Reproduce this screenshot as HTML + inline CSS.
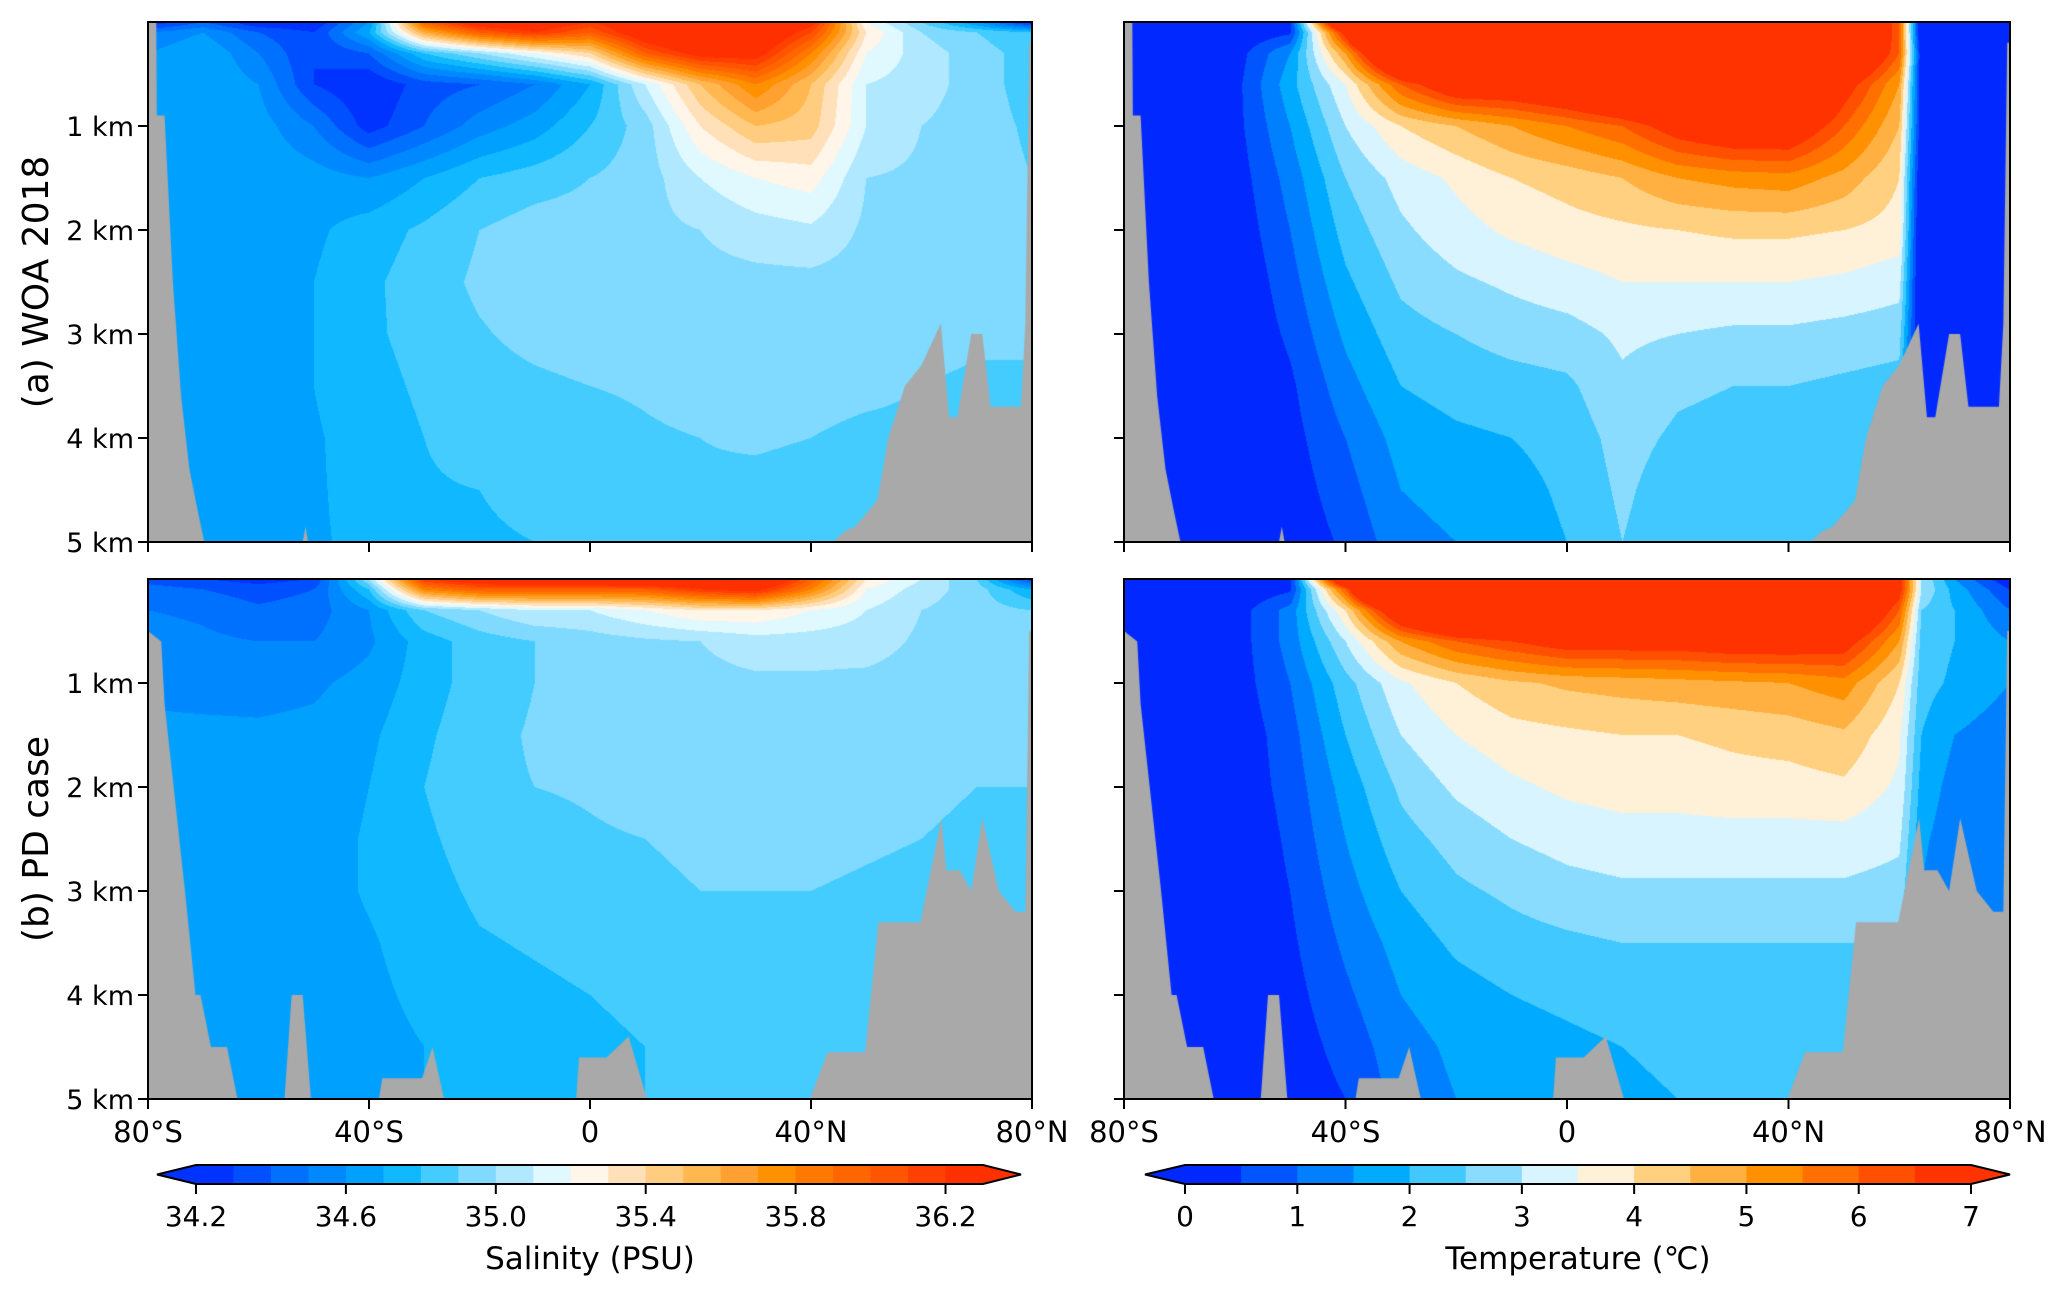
<!DOCTYPE html>
<html><head><meta charset="utf-8">
<style>
html,body{margin:0;padding:0;background:#fff;}
#wrap{position:relative;width:2067px;height:1296px;overflow:hidden;font-family:"DejaVu Sans","Liberation Sans",sans-serif;}
canvas{position:absolute;}
svg{position:absolute;left:0;top:0;}
</style></head>
<body>
<div id="wrap">
<canvas id="cA"></canvas>
<canvas id="cB"></canvas>
<canvas id="cC"></canvas>
<canvas id="cD"></canvas>
<svg id="ov" width="2067" height="1296"></svg>
</div>
<script>
// ---------- data ----------
const depths = [0,0.1,0.3,0.6,1.0,1.5,2.0,2.5,3.0,3.5,4.0,4.5,5.0];
const salLats = [-80,-70,-60,-50,-40,-30,-20,-10,0,10,20,30,40,50,60,70,80];
const tempLats = [-80,-70,-60,-50,-40,-30,-20,-10,0,10,20,30,40,50,60,64,70,80];

const salWOA = [
[34.2,34.4,34.2,34.2,34.6,36.0,36.4,36.4,36.2,36.4,36.6,36.6,36.3,35.2,34.9,34.6,34.2],
[34.5,34.6,34.4,34.3,34.7,35.6,36.0,36.2,36.0,36.4,36.6,36.5,36.1,35.3,35.0,34.9,34.8],
[34.6,34.7,34.5,34.3,34.4,34.8,35.0,35.2,35.4,36.0,36.3,36.3,35.8,35.2,35.05,34.95,34.85],
[34.65,34.7,34.6,34.3,34.2,34.35,34.4,34.5,34.7,35.1,35.5,35.8,35.5,35.1,35.05,34.95,34.85],
[34.7,34.7,34.65,34.5,34.25,34.4,34.55,34.65,34.8,34.95,35.3,35.5,35.45,35.1,35.0,34.95,34.88],
[34.68,34.68,34.68,34.65,34.6,34.7,34.8,34.85,34.9,34.95,35.1,35.2,35.25,35.0,34.98,34.95,34.9],
[34.68,34.68,34.68,34.68,34.75,34.82,34.9,34.95,34.95,34.97,35.0,35.05,35.08,34.98,34.96,34.95,34.93],
[34.68,34.68,34.68,34.7,34.78,34.85,34.92,34.95,34.96,34.96,34.97,34.97,34.97,34.96,34.95,34.94,34.93],
[34.68,34.68,34.68,34.7,34.78,34.84,34.89,34.93,34.95,34.95,34.96,34.96,34.96,34.95,34.94,34.92,34.9],
[34.67,34.67,34.67,34.7,34.76,34.82,34.86,34.88,34.9,34.91,34.93,34.93,34.93,34.92,34.9,34.88,34.9],
[34.67,34.66,34.66,34.69,34.74,34.8,34.84,34.86,34.87,34.89,34.9,34.91,34.9,34.88,34.88,34.88,34.9],
[34.67,34.66,34.66,34.69,34.73,34.79,34.8,34.82,34.86,34.88,34.89,34.88,34.87,34.85,34.85,34.85,34.88],
[34.67,34.66,34.66,34.69,34.72,34.78,34.79,34.8,34.85,34.88,34.88,34.87,34.85,34.84,34.84,34.85,34.88]
];
const salPD = [
[34.35,34.3,34.25,34.3,35.0,36.2,36.4,36.5,36.5,36.6,36.6,36.6,36.0,35.3,35.1,34.9,34.3],
[34.45,34.4,34.35,34.4,34.8,35.8,36.0,36.0,36.0,36.0,36.2,36.3,35.8,35.2,35.05,34.95,34.7],
[34.5,34.48,34.42,34.45,34.6,34.9,35.0,35.1,35.1,35.2,35.3,35.3,35.2,35.1,35.0,34.95,34.9],
[34.55,34.52,34.5,34.5,34.58,34.75,34.85,34.9,34.95,34.98,35.0,35.05,35.05,35.05,34.98,34.95,34.93],
[34.58,34.57,34.56,34.58,34.64,34.75,34.85,34.9,34.93,34.95,34.97,34.98,34.98,34.97,34.95,34.95,34.93],
[34.62,34.62,34.62,34.63,34.68,34.78,34.87,34.91,34.93,34.95,34.96,34.96,34.96,34.95,34.94,34.93,34.92],
[34.64,34.64,34.64,34.65,34.7,34.8,34.88,34.9,34.91,34.93,34.94,34.94,34.94,34.93,34.92,34.9,34.9],
[34.65,34.65,34.65,34.66,34.71,34.78,34.85,34.87,34.89,34.9,34.92,34.92,34.92,34.91,34.9,34.88,34.88],
[34.65,34.65,34.65,34.66,34.71,34.76,34.82,34.84,34.86,34.88,34.9,34.9,34.9,34.89,34.88,34.86,34.86],
[34.65,34.65,34.65,34.66,34.69,34.74,34.79,34.81,34.83,34.85,34.87,34.87,34.86,34.86,34.86,34.85,34.85],
[34.65,34.65,34.65,34.66,34.68,34.72,34.76,34.78,34.8,34.82,34.84,34.84,34.83,34.83,34.83,34.83,34.83],
[34.65,34.65,34.65,34.66,34.67,34.7,34.74,34.76,34.78,34.8,34.82,34.82,34.81,34.81,34.81,34.81,34.81],
[34.65,34.65,34.65,34.66,34.67,34.7,34.73,34.75,34.77,34.8,34.81,34.81,34.8,34.8,34.8,34.8,34.8]
];
const tempWOA = [
[-1,-1,0,0.3,10,18,22,25,26,26,24,20,15,10,6,-0.5,-0.5,-1],
[-1,-1,0,0.4,7,15,18,20,18,20,20,18,14,10,6,-0.5,-0.5,-0.5],
[-0.5,-0.5,0.2,1.5,5,10,12,12,11,13,14,14,12,9,6,0,0,0],
[-0.5,-0.3,0.3,1.8,3.5,6,7.5,7.5,8,9,10,11,10,7,5,0,0,0],
[-0.5,-0.3,0.3,1.5,3,4,4.5,5,5.5,6,7,7.5,7.5,6,4.5,0,0,0],
[-0.5,-0.3,0.2,1.2,2.5,3.2,3.6,4,4.2,4.5,5,5.2,5.3,4.8,4,-0.3,-0.3,-0.5],
[-0.5,-0.3,0.1,1.0,2.2,2.9,3.3,3.6,3.8,3.9,4.0,4.1,4.1,4.0,3.8,-0.5,-0.5,-0.5],
[-0.5,-0.3,0,0.8,1.9,2.6,2.9,3.1,3.3,3.5,3.5,3.5,3.5,3.4,3.2,-0.5,-0.5,-0.5],
[-0.5,-0.3,0,0.6,1.6,2.3,2.5,2.7,2.8,3.1,3.0,2.9,2.9,2.8,2.7,-0.5,-0.5,-0.5],
[-0.5,-0.3,0,0.4,1.3,2.0,2.2,2.3,2.4,2.9,2.6,2.5,2.5,2.4,2.3,-0.5,-0.5,-0.5],
[-0.5,-0.3,0,0.3,1.0,1.7,1.9,2.0,2.2,2.7,2.4,2.3,2.3,2.2,2.2,-0.5,-0.5,-0.5],
[-0.5,-0.3,0,0.2,0.8,1.5,1.7,1.8,2.1,2.6,2.2,2.1,2.1,2.1,2.1,-0.5,-0.5,-0.5],
[-0.5,-0.3,0,0.1,0.6,1.3,1.5,1.7,2.0,2.5,2.1,2.0,2.0,2.0,2.0,-0.5,-0.5,-0.5]
];
const tempPD = [
[-1,-1,0,0.3,9,18,22,25,26,26,24,20,15,10,7,3,1.5,0],
[-1,-1,0,0.4,6,14,17,18,18,18,18,17,14,10,7,3,1.8,0.5],
[-0.5,-0.5,0.2,1.2,4,8,10,10,10,10,10,10,10,9,6,2.5,2,1],
[-0.5,-0.3,0.2,1.2,3,5,6,6.5,7,7,7,7.2,7.2,7,5,2.3,2,1.5],
[-0.5,-0.3,0.2,1.0,2.3,3.4,4.0,4.4,4.6,4.7,4.8,4.9,5.0,5.3,4,2.2,1.9,1.5],
[-0.5,-0.3,0.1,0.8,2.0,3.0,3.5,3.8,3.9,4.0,4.0,4.1,4.2,4.4,3.6,2.0,1.5,1.2],
[-0.5,-0.3,0.1,0.7,1.7,2.6,3.1,3.4,3.6,3.7,3.7,3.8,3.8,3.9,3.4,1.8,1.3,1.2],
[-0.5,-0.3,0,0.6,1.5,2.3,2.7,3.0,3.2,3.3,3.3,3.3,3.3,3.3,3.1,1.6,1.2,1.2],
[-0.5,-0.3,0,0.5,1.3,2.0,2.4,2.6,2.8,2.9,2.9,2.9,2.9,2.9,2.8,1.5,1.0,1.2],
[-0.5,-0.3,0,0.4,1.1,1.7,2.1,2.3,2.4,2.5,2.5,2.5,2.5,2.5,2.5,1.5,1,1.2],
[-0.5,-0.3,0,0.3,0.9,1.5,1.8,2.0,2.1,2.2,2.2,2.2,2.2,2.2,2.2,1.5,1,1.2],
[-0.5,-0.3,0,0.2,0.7,1.3,1.6,1.8,1.9,2.0,2.1,2.1,2.1,2.1,2.1,1.5,1,1.2],
[-0.5,-0.3,0,0.1,0.5,1.2,1.5,1.6,1.8,1.9,2.0,2.0,2.0,2.0,2.0,1.5,1,1.2]
];
const bathyWOALat = [-80,-78.5,-78.4,-77,-75.5,-74,-72.5,-71,-69.8,-52,-51.5,-51,44,46,48,52,54,57,60,63.5,65,66.5,69,71,72.5,74,76,78,78.8,79.5,80];
const bathyWOADep = [0,0,0.9,0.9,2.5,3.6,4.3,4.7,5.0,5.0,4.85,5.0,5.0,4.9,4.85,4.6,4.0,3.5,3.3,2.9,3.8,3.8,3.0,3.0,3.7,3.7,3.7,3.7,2.9,0.2,0.2];
const bathyPDLat = [-80,-77.6,-77,-73.3,-71.4,-70.5,-68.6,-65.7,-63.8,-55.3,-54,-52,-50.5,-38.2,-37.6,-30.4,-28.5,-26.4,-2.5,-2,3,7,10.3,39.8,43,49.8,52.2,59.8,63.6,64.5,66.9,69,71,74,77,78.8,79.5,80];
const bathyPDDep = [0.5,0.6,1.2,3.0,4.0,4.0,4.5,4.5,5.0,5.0,4.0,4.0,5.0,5.0,4.8,4.8,4.5,5.0,5.0,4.6,4.6,4.4,5.0,5.0,4.55,4.55,3.3,3.3,2.3,2.8,2.8,3.0,2.3,3.0,3.2,3.2,0.5,0.5];

const salBounds = [34.2,34.3,34.4,34.5,34.6,34.7,34.8,34.9,35.0,35.1,35.2,35.3,35.4,35.5,35.6,35.7,35.8,35.9,36.0,36.1,36.2,36.3];
const salColors = ["#0033ff","#0050ff","#0070ff","#0088ff","#00a0ff","#10b8ff","#44ccff","#80daff","#b0e8ff","#e0f8ff","#fff5e8","#ffe0b8","#ffcc80","#ffb850","#ffa030","#ff9000","#ff7800","#ff6600","#ff5500","#ff4000","#ff3000"];
const salTicks = [34.2,34.6,35.0,35.4,35.8,36.2];
const salTickLabels = ["34.2","34.6","35.0","35.4","35.8","36.2"];
const tempBounds = [0,0.5,1,1.5,2,2.5,3,3.5,4,4.5,5,5.5,6,6.5,7];
const tempColors = ["#0028ff","#0055ff","#0080ff","#00aaff","#40c8ff","#8adcff","#d8f4ff","#fff0d8","#ffd080","#ffb040","#ff9000","#ff7000","#ff5000","#ff3300"];
const tempTicks = [0,1,2,3,4,5,6,7];
const tempTickLabels = ["0","1","2","3","4","5","6","7"];
const latTicks = [-80,-40,0,40,80];
const latTickLabels = ["80°S","40°S","0","40°N","80°N"];
const depthTicks = [1,2,3,4,5];
const depthTickLabels = ["1 km","2 km","3 km","4 km","5 km"];

// ---------- layout ----------
const panels = [
 {id:'cA', x:148, y:22, w:884, h:520, lats:salLats, grid:salWOA, bounds:salBounds, colors:salColors, bl:bathyWOALat, bd:bathyWOADep, name:'salinity-woa'},
 {id:'cB', x:1124, y:22, w:886, h:520, lats:tempLats, grid:tempWOA, bounds:tempBounds, colors:tempColors, bl:bathyWOALat, bd:bathyWOADep, name:'temperature-woa'},
 {id:'cC', x:148, y:579, w:884, h:520, lats:salLats, grid:salPD, bounds:salBounds, colors:salColors, bl:bathyPDLat, bd:bathyPDDep, name:'salinity-pd'},
 {id:'cD', x:1124, y:579, w:886, h:520, lats:tempLats, grid:tempPD, bounds:tempBounds, colors:tempColors, bl:bathyPDLat, bd:bathyPDDep, name:'temperature-pd'}
];
function hex(c){return [parseInt(c.substr(1,2),16),parseInt(c.substr(3,2),16),parseInt(c.substr(5,2),16)];}
function findIdx(arr,v){for(let i=0;i<arr.length-2;i++){if(v<arr[i+1])return i;}return arr.length-2;}
function sample(p,lat,z){
  const i=findIdx(p.lats,lat), j=findIdx(depths,z);
  const tx=Math.max(0,Math.min(1,(lat-p.lats[i])/(p.lats[i+1]-p.lats[i])));
  const ty=Math.max(0,Math.min(1,(z-depths[j])/(depths[j+1]-depths[j])));
  const g=p.grid;
  const a=g[j][i]*(1-tx)+g[j][i+1]*tx, b=g[j+1][i]*(1-tx)+g[j+1][i+1]*tx;
  return a*(1-ty)+b*ty;
}
function binOf(bounds,v){let k=0;while(k<bounds.length-2&&v>=bounds[k+1])k++;return k;}

panels.forEach(p=>{
  const c=document.getElementById(p.id);
  c.width=p.w;c.height=p.h;c.style.left=p.x+'px';c.style.top=p.y+'px';
  const ctx=c.getContext('2d');
  const img=ctx.createImageData(p.w,p.h);
  const cols=p.colors.map(hex);
  for(let py=0;py<p.h;py++){
    const z=(py+0.5)/p.h*5;
    for(let px=0;px<p.w;px++){
      const lat=-80+(px+0.5)/p.w*160;
      const v=sample(p,lat,z);
      const col=cols[binOf(p.bounds,v)];
      const o=(py*p.w+px)*4;
      img.data[o]=col[0];img.data[o+1]=col[1];img.data[o+2]=col[2];img.data[o+3]=255;
    }
  }
  ctx.putImageData(img,0,0);
  ctx.fillStyle='#a9a9a9';
  ctx.beginPath();
  ctx.moveTo(0,p.h);
  for(let k=0;k<p.bl.length;k++){
    ctx.lineTo((p.bl[k]+80)/160*p.w, p.bd[k]/5*p.h);
  }
  ctx.lineTo(p.w,p.h);ctx.closePath();ctx.fill();
});

// ---------- SVG axes ----------
const NS='http://www.w3.org/2000/svg';
const svg=document.getElementById('ov');
function mk(tag,attrs,parent){const e=document.createElementNS(NS,tag);for(const k in attrs)e.setAttribute(k,attrs[k]);(parent||svg).appendChild(e);return e;}

panels.forEach((p,pi)=>{
  const g=mk('g',{});
  
  
  const fr=mk('rect',{x:p.x,y:p.y,width:p.w,height:p.h,fill:'none',stroke:'#000','stroke-width':2},g);
  
  
  latTicks.forEach((t,k)=>{
    const x=p.x+(t+80)/160*p.w;
    const tk=mk('line',{x1:x,y1:p.y+p.h,x2:x,y2:p.y+p.h+10,stroke:'#000','stroke-width':2},g);
    
    
    if(pi>=2){
      const tx=mk('text',{x:x,y:p.y+p.h+43,'text-anchor':'middle','font-size':29,fill:'#000'},g);
      tx.textContent=latTickLabels[k];
      
      
    }
  });
  depthTicks.forEach((d,k)=>{
    const y=p.y+d/5*p.h;
    const tk=mk('line',{x1:p.x-10,y1:y,x2:p.x,y2:y,stroke:'#000','stroke-width':2},g);
    
    
    if(pi%2===0){
      const tx=mk('text',{x:p.x-14,y:y+10,'text-anchor':'end','font-size':27,fill:'#000'},g);
      tx.textContent=depthTickLabels[k];
      
      
    }
  });
});

// row titles
[[282,'(a) WOA 2018','row-title-woa'],[839,'(b) PD case','row-title-pd']].forEach(r=>{
  const t=mk('text',{x:0,y:0,transform:'translate(48,'+r[0]+') rotate(-90)','text-anchor':'middle','font-size':36,fill:'#000'});
  t.textContent=r[1];
  
  
});

// colorbars
function colorbar(cb){
  const g=mk('g',{});
  
  
  const n=cb.colors.length, bw=(cb.x1-cb.x0)/n;
  const y0=1165,y1=1184,ym=(y0+y1)/2;
  const lt=mk('polygon',{points:cb.tipL+','+ym+' '+cb.x0+','+y0+' '+cb.x0+','+y1,fill:cb.colors[0]},g);
  
  
  const rt=mk('polygon',{points:cb.tipR+','+ym+' '+cb.x1+','+y0+' '+cb.x1+','+y1,fill:cb.colors[n-1]},g);
  
  
  for(let k=0;k<n;k++){
    const r=mk('rect',{x:cb.x0+k*bw,y:y0,width:bw+0.6,height:y1-y0,fill:cb.colors[k]},g);
    
    
  }
  const ol=mk('polygon',{points:cb.tipL+','+ym+' '+cb.x0+','+y0+' '+cb.x1+','+y0+' '+cb.tipR+','+ym+' '+cb.x1+','+y1+' '+cb.x0+','+y1,fill:'none',stroke:'#000','stroke-width':2},g);
  
  
  const lo=cb.bounds[0], hi=cb.bounds[cb.bounds.length-1];
  cb.ticks.forEach((t,k)=>{
    const x=cb.x0+(t-lo)/(hi-lo)*(cb.x1-cb.x0);
    const tk=mk('line',{x1:x,y1:y1,x2:x,y2:y1+10,stroke:'#000','stroke-width':2},g);
    
    
    const tx=mk('text',{x:x,y:1226,'text-anchor':'middle','font-size':28,fill:'#000'},g);
    tx.textContent=cb.labels[k];
    
    
  });
  const lb=mk('text',{x:cb.lx,y:1269,'text-anchor':'middle','font-size':31,fill:'#000'},g);
  lb.textContent=cb.title;
  
  
}
colorbar({name:'salinity-colorbar',x0:196,x1:983,tipL:157,tipR:1021,colors:salColors,bounds:salBounds,ticks:salTicks,labels:salTickLabels,lx:590,title:'Salinity (PSU)'});
colorbar({name:'temperature-colorbar',x0:1185,x1:1971,tipL:1145,tipR:2010,colors:tempColors,bounds:tempBounds,ticks:tempTicks,labels:tempTickLabels,lx:1578,title:'Temperature (℃)'});
</script>
</body></html>
